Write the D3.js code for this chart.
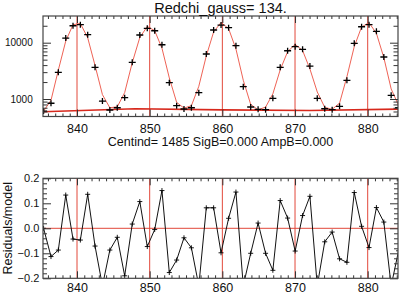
<!DOCTYPE html>
<html>
<head>
<meta charset="utf-8">
<script src="https://cdn.jsdelivr.net/npm/d3@7"></script>
<style>
  body { margin: 0; background: #fff; }
  svg { display: block; font-family: "Liberation Sans", Arial, Helvetica, sans-serif; }
</style>
</head>
<body>
<div id="chart"></div>
<script>
// wavelengths of the fitted pixels
const wave = [835.40, 836.42, 837.43, 838.45, 839.45, 840.46, 841.47, 842.48, 843.50, 844.52,
              845.54, 846.56, 847.60, 848.64, 849.67, 850.69, 851.69, 852.70, 853.71, 854.72,
              855.74, 856.76, 857.79, 858.80, 859.82, 860.86, 861.87, 862.88, 863.90, 864.92,
              865.95, 866.95, 867.96, 868.98, 870.02, 871.04, 872.05, 873.06, 874.09, 875.11,
              876.13, 877.14, 878.15, 879.16, 880.18, 881.20, 882.22, 883.23, 884.25];
// data counts
const flux = [610, 840, 2980, 12100, 20000, 20900, 13900, 3660, 920, 638,
              700, 1054, 4490, 13700, 18000, 16300, 9200, 1950, 760, 664,
              700, 1294, 6300, 16800, 20600, 18500, 8850, 1655, 721, 656,
              646, 1028, 3660, 7200, 8500, 7630, 3850, 1028, 672, 646,
              741, 2150, 9750, 19200, 20900, 15900, 5570, 1163, 700];
// gaussian model
const model = [610, 947, 3264, 10680, 20900, 21930, 12240, 3940, 1195, 699,
               726, 1301, 4415, 12380, 19420, 16380, 7990, 2370, 871, 690,
               759, 1680, 5820, 15530, 22840, 17790, 7730, 2150, 801, 643,
               718, 1236, 3294, 6916, 9350, 7260, 3413, 1335, 710, 656,
               844, 2488, 8530, 19050, 22640, 14680, 5434, 1510, 770];
// (data - model) / model
const resid = [0.0, -0.113, -0.087, 0.133, -0.043, -0.047, 0.136, -0.071, -0.23, -0.087,
               -0.036, -0.19, 0.017, 0.107, -0.073, -0.005, 0.151, -0.177, -0.127, -0.038,
               -0.078, -0.23, 0.082, 0.082, -0.098, 0.04, 0.145, -0.23, -0.1, 0.021,
               -0.1, -0.168, 0.111, 0.041, -0.091, 0.051, 0.128, -0.23, -0.054, -0.015,
               -0.122, -0.136, 0.143, 0.008, -0.077, 0.083, 0.025, -0.23, -0.09];
// background level
const bgWave = [835.3, 848, 860, 872, 884.3];
const bgLevel = [595, 670, 640, 625, 662];

const centers = [840, 850, 860, 870, 880];
const xTicks = [840, 850, 860, 870, 880];
const fluxTicks = [1000, 10000];
const residTicks = [-0.2, -0.1, 0.0, 0.1, 0.2];
const titleText = 'Redchi_gauss= 134.';
const infoText = 'Centind= 1485 SigB=0.000 AmpB=0.000';

const W = 399, H = 295;
const left = 43, right = 398;
const p1 = { top: 16, bottom: 116.5 };
const p2 = { top: 178.3, bottom: 278.3 };
const RED = 'rgb(226,72,58)';
const MODEL_RED = 'rgb(236,80,66)';

const svg = d3.select('#chart').append('svg').attr('width', W).attr('height', H);

const x = d3.scaleLinear().domain([835.32, 884.17]).range([left, right]);
const yF = d3.scaleLog().domain([489, 29800]).range([p1.bottom, p1.top]);
const yR = d3.scaleLinear().domain([-0.2, 0.2]).range([p2.bottom, p2.top]);

// clip paths
const defs = svg.append('defs');
[['c1', p1], ['c2', p2]].forEach(([id, p]) => {
  defs.append('clipPath').attr('id', id).append('rect')
    .attr('x', left).attr('y', p.top).attr('width', right - left).attr('height', p.bottom - p.top);
});

const minorX = d3.range(836, 885, 1).filter(d => d % 10 !== 0);

function xAxes(p, pad) {
  svg.append('g').attr('transform', `translate(0,${p.bottom})`)
    .call(d3.axisBottom(x).tickValues(xTicks).tickSize(-7).tickSizeOuter(0).tickPadding(pad).tickFormat(d3.format('d')));
  svg.append('g').attr('transform', `translate(0,${p.bottom})`)
    .call(d3.axisBottom(x).tickValues(minorX).tickSize(-3).tickSizeOuter(0).tickFormat(''));
  svg.append('g').attr('transform', `translate(0,${p.top})`)
    .call(d3.axisTop(x).tickValues(xTicks).tickSize(-7).tickSizeOuter(0).tickFormat(''));
  svg.append('g').attr('transform', `translate(0,${p.top})`)
    .call(d3.axisTop(x).tickValues(minorX).tickSize(-3).tickSizeOuter(0).tickFormat(''));
}

// ---------- top panel ----------
const g1 = svg.append('g').attr('clip-path', 'url(#c1)');
g1.selectAll('.vl').data(centers).enter().append('line')
  .attr('x1', d => x(d)).attr('x2', d => x(d))
  .attr('y1', p1.top).attr('y2', p1.bottom)
  .attr('stroke', RED).attr('stroke-width', 1);

g1.append('path')
  .datum(bgWave.map((w, i) => [w, bgLevel[i]]))
  .attr('fill', 'none').attr('stroke', 'rgb(215,40,28)').attr('stroke-width', 1.6)
  .attr('d', d3.line().x(d => x(d[0])).y(d => yF(d[1])));

g1.append('path')
  .datum(wave.map((w, i) => [w, model[i]]))
  .attr('fill', 'none').attr('stroke', MODEL_RED).attr('stroke-width', 0.9)
  .attr('d', d3.line().x(d => x(d[0])).y(d => yF(d[1])));

const plus1 = g1.selectAll('.p1').data(wave).enter().append('g')
  .attr('transform', (d, i) => `translate(${x(d)},${yF(flux[i])})`);
plus1.append('line').attr('x1', -3.5).attr('x2', 3.5).attr('stroke', '#000').attr('stroke-width', 1.3);
plus1.append('line').attr('y1', -3).attr('y2', 3).attr('stroke', '#000').attr('stroke-width', 1.3);

xAxes(p1, 7.3);

const minorF = [];
[100, 1000, 10000].forEach(b => { for (let k = 2; k <= 9; k++) minorF.push(k * b); });
const minorFIn = minorF.filter(v => v >= 489 && v <= 29800);

svg.append('g').attr('transform', `translate(${left},0)`)
  .call(d3.axisLeft(yF).tickValues(fluxTicks).tickSize(-8).tickSizeOuter(0).tickPadding(10.3).tickFormat(d3.format('d')))
  .selectAll('text').style('font-size', '10px');
svg.append('g').attr('transform', `translate(${left},0)`)
  .call(d3.axisLeft(yF).tickValues(minorFIn).tickSize(-4.5).tickSizeOuter(0).tickFormat(''));
svg.append('g').attr('transform', `translate(${right},0)`)
  .call(d3.axisRight(yF).tickValues(fluxTicks).tickSize(-8).tickSizeOuter(0).tickFormat(''));
svg.append('g').attr('transform', `translate(${right},0)`)
  .call(d3.axisRight(yF).tickValues(minorFIn).tickSize(-4.5).tickSizeOuter(0).tickFormat(''));

// ---------- bottom panel ----------
const g2 = svg.append('g').attr('clip-path', 'url(#c2)');
g2.selectAll('.vl').data(centers).enter().append('line')
  .attr('x1', d => x(d)).attr('x2', d => x(d))
  .attr('y1', p2.top).attr('y2', p2.bottom)
  .attr('stroke', RED).attr('stroke-width', 1);
g2.append('line')
  .attr('x1', left).attr('x2', right).attr('y1', yR(0)).attr('y2', yR(0))
  .attr('stroke', RED).attr('stroke-width', 1);

g2.append('path')
  .datum(wave.map((w, i) => [w, resid[i]]))
  .attr('fill', 'none').attr('stroke', '#111').attr('stroke-width', 1)
  .attr('d', d3.line().x(d => x(d[0])).y(d => yR(d[1])));

const plus2 = g2.selectAll('.p2').data(wave).enter().append('g')
  .attr('transform', (d, i) => `translate(${x(d)},${yR(resid[i])})`);
plus2.append('line').attr('x1', -2.5).attr('x2', 2.5).attr('stroke', '#000').attr('stroke-width', 0.9);
plus2.append('line').attr('y1', -2.5).attr('y2', 2.5).attr('stroke', '#000').attr('stroke-width', 0.9);

xAxes(p2, 5.2);

const minorR = d3.range(-0.18, 0.2, 0.02).filter(v => Math.abs(Math.round(v * 50) % 5) !== 0);
svg.append('g').attr('transform', `translate(${left},0)`)
  .call(d3.axisLeft(yR).tickValues(residTicks).tickSize(-8).tickSizeOuter(0).tickPadding(3.7).tickFormat(d3.format('.1f')))
  .selectAll('text').style('font-size', '11px');
svg.append('g').attr('transform', `translate(${left},0)`)
  .call(d3.axisLeft(yR).tickValues(minorR).tickSize(-4).tickSizeOuter(0).tickFormat(''));
svg.append('g').attr('transform', `translate(${right},0)`)
  .call(d3.axisRight(yR).tickValues(residTicks).tickSize(-8).tickSizeOuter(0).tickFormat(''));
svg.append('g').attr('transform', `translate(${right},0)`)
  .call(d3.axisRight(yR).tickValues(minorR).tickSize(-4).tickSizeOuter(0).tickFormat(''));

// style axes
svg.selectAll('.domain').remove();
svg.selectAll('.tick line').attr('stroke', '#333');
svg.selectAll('.tick text').attr('fill', '#111').style('font-family', '"Liberation Sans", Arial, sans-serif');
svg.selectAll('g[font-size="10"]').attr('font-size', 12.5);

// frames
[p1, p2].forEach(p => {
  svg.append('rect')
    .attr('x', left).attr('y', p.top).attr('width', right - left).attr('height', p.bottom - p.top)
    .attr('fill', 'none').attr('stroke', '#444').attr('stroke-width', 1.2);
});

// texts
svg.append('text').attr('x', (left + right) / 2).attr('y', 13.4)
  .attr('text-anchor', 'middle').style('font-size', '14.5px').attr('fill', '#111').text(titleText);
svg.append('text').attr('x', (left + right) / 2).attr('y', 146)
  .attr('text-anchor', 'middle').style('font-size', '12.5px').attr('fill', '#111').text(infoText);
svg.append('text').attr('transform', `translate(11.5,${(p2.top + p2.bottom) / 2}) rotate(-90)`)
  .attr('text-anchor', 'middle').style('font-size', '12.5px').attr('fill', '#111').text('Residuals/model');
</script>
</body>
</html>
